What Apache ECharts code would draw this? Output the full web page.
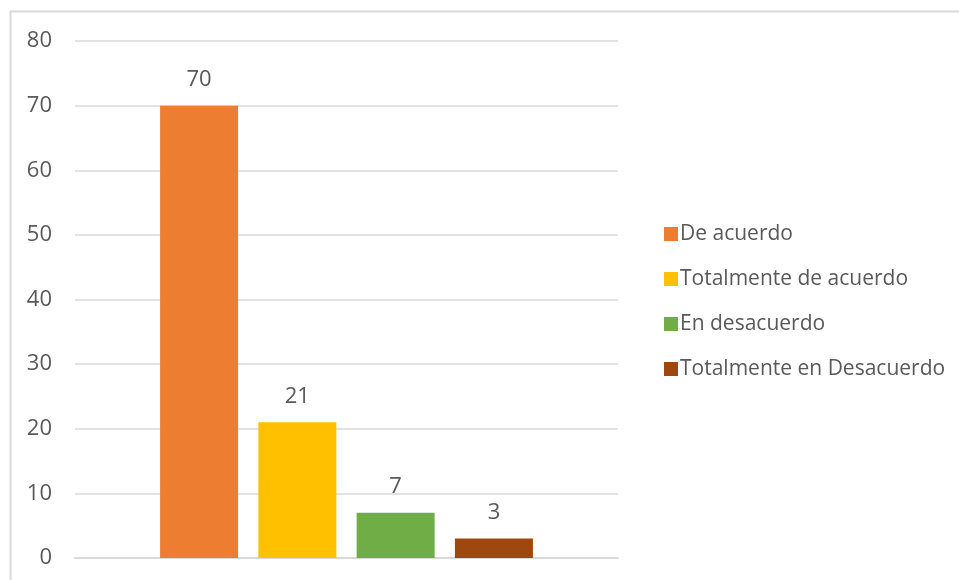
<!DOCTYPE html>
<html>
<head>
<meta charset="utf-8">
<script src="https://cdn.jsdelivr.net/npm/echarts@6/dist/echarts.min.js"></script>
<style>
  html, body { margin: 0; padding: 0; background: #fff; }
  #chart { width: 959px; height: 580px; }
</style>
</head>
<body>
<div id="chart"></div>
<script>
// Survey responses, one bar per answer option
const categories = [''];
const seriesNames = ['De acuerdo', 'Totalmente de acuerdo', 'En desacuerdo', 'Totalmente en Desacuerdo'];
const seriesValues = [70, 21, 7, 3];
const seriesColors = ['#ED7D31', '#FFC000', '#70AD47', '#9E480E'];
const yTicks = { min: 0, max: 80, interval: 10 };

const FONT = 'Open Sans, Lato, sans-serif';
const TEXT = '#595959';

const chart = echarts.init(document.getElementById('chart'), null, { renderer: 'canvas' });

const series = seriesNames.map((name, i) => ({
  name: name,
  type: 'bar',
  data: [seriesValues[i]],
  barWidth: 78,
  barGap: '26%',
  itemStyle: { color: seriesColors[i] },
  label: {
    show: true,
    position: 'top',
    distance: 15,
    color: TEXT,
    fontFamily: FONT,
    fontSize: 22
  }
}));

chart.setOption({
  animation: false,
  backgroundColor: '#fff',
  graphic: [{
    type: 'rect',
    shape: { x: 10.5, y: 11.5, width: 960, height: 580 },
    style: { fill: 'none', stroke: '#d9d9d9', lineWidth: 2 },
    silent: true
  }],
  grid: { left: 75, right: 341, top: 41, bottom: 22 },
  legend: {
    orient: 'vertical',
    left: 659,
    top: 218,
    itemWidth: 14,
    itemHeight: 14,
    itemGap: 23,
    icon: 'rect',
    textStyle: { color: TEXT, fontFamily: FONT, fontSize: 21, lineHeight: 22, padding: [0, 0, 0, -3] },
    data: seriesNames
  },
  xAxis: {
    type: 'category',
    data: categories,
    axisLine: { show: true, lineStyle: { color: '#d9d9d9', width: 2 } },
    axisTick: { show: false },
    axisLabel: { show: false }
  },
  yAxis: {
    type: 'value',
    min: yTicks.min,
    max: yTicks.max,
    interval: yTicks.interval,
    axisLine: { show: false },
    axisTick: { show: false },
    axisLabel: { color: TEXT, fontFamily: FONT, fontSize: 22, margin: 23 },
    splitLine: { lineStyle: { color: '#d9d9d9', width: 1.5 } }
  },
  series: series
});
</script>
</body>
</html>
